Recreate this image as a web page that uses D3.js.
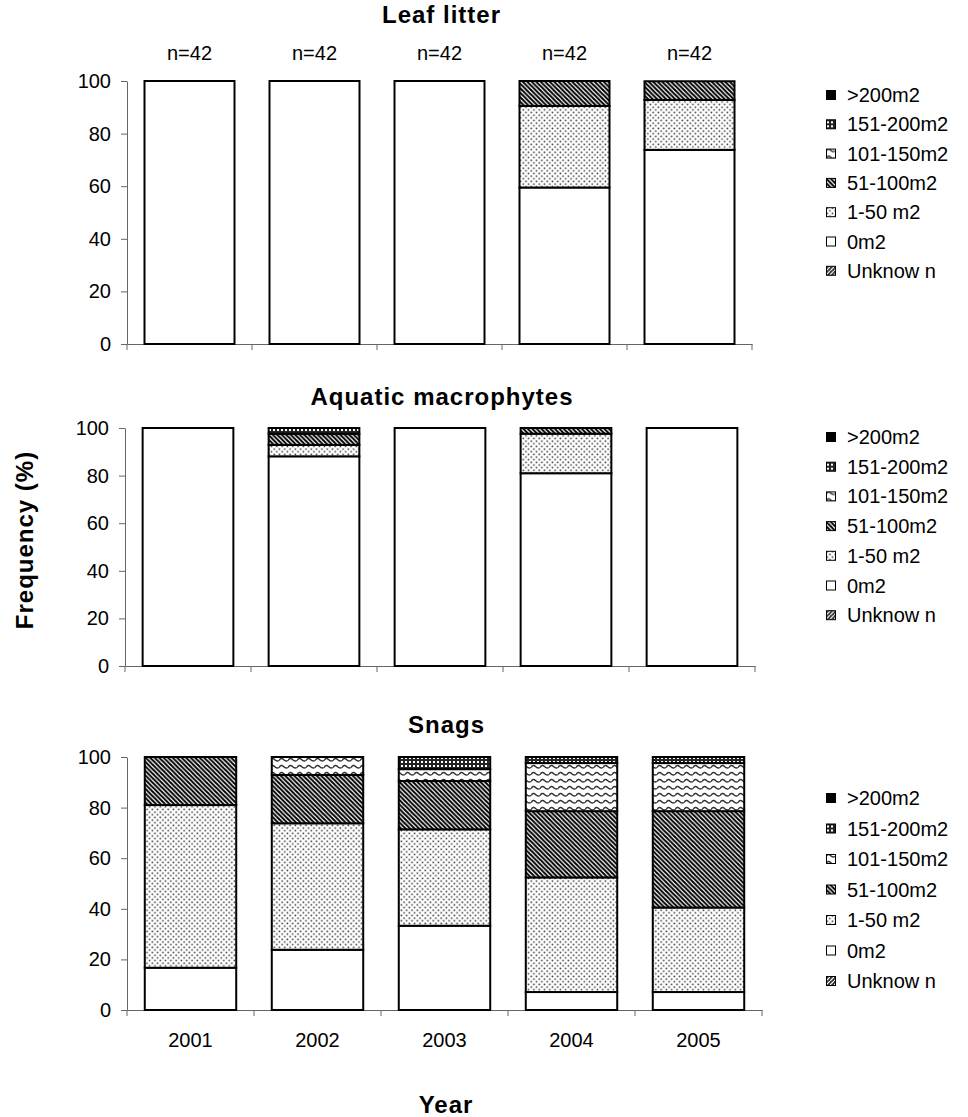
<!DOCTYPE html>
<html>
<head>
<meta charset="utf-8">
<script src="https://cdn.jsdelivr.net/npm/d3@7"></script>
<style>
  body { margin: 0; background: #fff; }
  text { font-family: "Liberation Sans", Arial, sans-serif; }
</style>
</head>
<body>
<script>
var years = ["2001", "2002", "2003", "2004", "2005"];
var yTicks = [0, 20, 40, 60, 80, 100];
var sampleLabels = ["n=42", "n=42", "n=42", "n=42", "n=42"];
var panelTitles = ["Leaf litter", "Aquatic macrophytes", "Snags"];
// stacking order, bottom first (legend shows it reversed)
var classes = ["Unknow n", "0m2", "1-50 m2", "51-100m2", "101-150m2", "151-200m2", ">200m2"];

// Leaf litter (% of sites)
var leafUnknown  = [0, 0, 0, 0, 0];
var leaf0        = [100, 100, 100, 59.5, 73.8];
var leaf1to50    = [0, 0, 0, 31.0, 19.0];
var leaf51to100  = [0, 0, 0, 9.5, 7.1];
var leaf101to150 = [0, 0, 0, 0, 0];
var leaf151to200 = [0, 0, 0, 0, 0];
var leafOver200  = [0, 0, 0, 0, 0];

// Aquatic macrophytes
var aquaUnknown  = [0, 0, 0, 0, 0];
var aqua0        = [100, 88.1, 100, 81.0, 100];
var aqua1to50    = [0, 4.8, 0, 16.6, 0];
var aqua51to100  = [0, 4.7, 0, 2.4, 0];
var aqua101to150 = [0, 0, 0, 0, 0];
var aqua151to200 = [0, 2.4, 0, 0, 0];
var aquaOver200  = [0, 0, 0, 0, 0];

// Snags
var snagUnknown  = [0, 0, 0, 0, 0];
var snag0        = [16.7, 23.8, 33.3, 7.1, 7.1];
var snag1to50    = [64.3, 50.0, 38.1, 45.3, 33.4];
var snag51to100  = [19.0, 19.1, 19.1, 26.2, 38.1];
var snag101to150 = [0, 7.1, 4.7, 19.0, 19.0];
var snag151to200 = [0, 0, 4.8, 2.4, 2.4];
var snagOver200  = [0, 0, 0, 0, 0];

function makeRows(series) {
  return years.map(function(y, i) {
    var row = { year: y };
    classes.forEach(function(c, k) { row[c] = series[k][i]; });
    return row;
  });
}

var panels = [
  { title: panelTitles[0], rows: makeRows([leafUnknown, leaf0, leaf1to50, leaf51to100, leaf101to150, leaf151to200, leafOver200]),
    x0: 127, x1: 752, top: 81, bottom: 344, titleY: 23, legendY: 95, legendStep: 29.3, showN: true, showYears: false },
  { title: panelTitles[1], rows: makeRows([aquaUnknown, aqua0, aqua1to50, aqua51to100, aqua101to150, aqua151to200, aquaOver200]),
    x0: 125, x1: 755, top: 428, bottom: 666, titleY: 405, legendY: 437, legendStep: 29.7, showN: false, showYears: false },
  { title: panelTitles[2], rows: makeRows([snagUnknown, snag0, snag1to50, snag51to100, snag101to150, snag151to200, snagOver200]),
    x0: 127, x1: 762, top: 757, bottom: 1010, titleY: 733, legendY: 798, legendStep: 30.5, showN: false, showYears: true }
];

var fills = {
  "Unknow n": "url(#pUnknown)",
  "0m2": "#ffffff",
  "1-50 m2": "url(#pDots)",
  "51-100m2": "url(#pHatch)",
  "101-150m2": "url(#pWave)",
  "151-200m2": "url(#pChecker)",
  ">200m2": "#000000"
};

var svg = d3.select("body").append("svg")
  .attr("width", 968).attr("height", 1117);

svg.append("rect").attr("width", 968).attr("height", 1117).attr("fill", "#fff");

// fill patterns
var defs = svg.append("defs");

var pd = defs.append("pattern").attr("id", "pDots").attr("patternUnits", "userSpaceOnUse")
  .attr("width", 5.3).attr("height", 5.3);
pd.append("rect").attr("width", 5.3).attr("height", 5.3).attr("fill", "#fff");
pd.append("rect").attr("x", 0.5).attr("y", 0.5).attr("width", 1.5).attr("height", 1.5).attr("fill", "#333");
pd.append("rect").attr("x", 3.15).attr("y", 3.15).attr("width", 1.5).attr("height", 1.5).attr("fill", "#333");

var ph = defs.append("pattern").attr("id", "pHatch").attr("patternUnits", "userSpaceOnUse")
  .attr("width", 4.5).attr("height", 4.5);
ph.append("rect").attr("width", 4.5).attr("height", 4.5).attr("fill", "#fff");
ph.append("path").attr("d", "M-1,-1 L5.5,5.5 M-1,3.5 L1,5.5 M3.5,-1 L5.5,1")
  .attr("stroke", "#000").attr("stroke-width", 2);

var pw = defs.append("pattern").attr("id", "pWave").attr("patternUnits", "userSpaceOnUse")
  .attr("width", 9).attr("height", 7);
pw.append("rect").attr("width", 9).attr("height", 7).attr("fill", "#fff");
pw.append("path").attr("d", "M0,4.5 Q2.25,1 4.5,3.5 T9,4.5")
  .attr("fill", "none").attr("stroke", "#333").attr("stroke-width", 1.4);

var pc = defs.append("pattern").attr("id", "pChecker").attr("patternUnits", "userSpaceOnUse")
  .attr("width", 4).attr("height", 4);
pc.append("rect").attr("width", 4).attr("height", 4).attr("fill", "#222");
pc.append("rect").attr("x", 1).attr("y", 1).attr("width", 2).attr("height", 2).attr("fill", "#fff");

var pu = defs.append("pattern").attr("id", "pUnknown").attr("patternUnits", "userSpaceOnUse")
  .attr("width", 4).attr("height", 4);
pu.append("rect").attr("width", 4).attr("height", 4).attr("fill", "#333");
pu.append("path").attr("d", "M-1,5 L5,-1").attr("stroke", "#fff").attr("stroke-width", 1.2);

var stack = d3.stack().keys(classes);

panels.forEach(function(p) {
  var g = svg.append("g");

  var x = d3.scaleBand().domain(years).range([p.x0, p.x1])
    .paddingInner(0.28).paddingOuter(0.14);
  var y = d3.scaleLinear().domain([0, 100]).range([p.bottom, p.top]);

  // y axis
  var yAxis = g.append("g").attr("transform", "translate(" + p.x0 + ",0)")
    .call(d3.axisLeft(y).tickValues(yTicks).tickSize(6).tickSizeOuter(0).tickPadding(10));
  yAxis.select(".domain").attr("stroke", "#666");
  yAxis.selectAll(".tick line").attr("stroke", "#666");
  yAxis.selectAll("text").attr("font-size", "20px").attr("fill", "#000")
    .attr("font-family", "'Liberation Sans', Arial, sans-serif");

  // x axis line and labels
  var xAxis = g.append("g").attr("transform", "translate(0," + p.bottom + ")")
    .call(d3.axisBottom(x).tickSize(0).tickSizeOuter(0).tickPadding(23));
  xAxis.select(".domain").attr("stroke", "#666");
  xAxis.selectAll("text").attr("font-size", "20px").attr("fill", "#000")
    .attr("font-family", "'Liberation Sans', Arial, sans-serif")
    .style("display", p.showYears ? null : "none");

  // category boundary ticks
  g.selectAll(".bound").data(d3.range(years.length + 1)).enter()
    .append("line")
    .attr("x1", function(i) { return x.range()[0] + i * x.step(); })
    .attr("x2", function(i) { return x.range()[0] + i * x.step(); })
    .attr("y1", p.bottom)
    .attr("y2", p.bottom + 6)
    .attr("stroke", "#666");

  // stacked bars
  var layers = stack(p.rows);
  layers.forEach(function(layer) {
    g.selectAll(null).data(layer.filter(function(d) { return d[1] - d[0] > 0; })).enter()
      .append("rect")
      .attr("x", function(d) { return x(d.data.year); })
      .attr("y", function(d) { return y(d[1]); })
      .attr("width", x.bandwidth())
      .attr("height", function(d) { return y(d[0]) - y(d[1]); })
      .attr("fill", fills[layer.key])
      .attr("stroke", "#000")
      .attr("stroke-width", 2);
  });

  // title
  g.append("text")
    .text(p.title)
    .attr("x", (p.x0 + p.x1) / 2 + 2)
    .attr("y", p.titleY)
    .attr("text-anchor", "middle")
    .attr("font-size", "24px")
    .attr("font-weight", "bold")
    .attr("letter-spacing", "1px");

  if (p.showN) {
    g.selectAll(".nlab").data(years).enter()
      .append("text")
      .text(function(d, i) { return sampleLabels[i]; })
      .attr("x", function(d) { return x(d) + x.bandwidth() / 2; })
      .attr("y", 60)
      .attr("text-anchor", "middle")
      .attr("font-size", "20px");
  }

  // legend, top entry is the last series
  var legendItems = classes.slice().reverse();
  var lg = g.selectAll(".leg").data(legendItems).enter()
    .append("g")
    .attr("transform", function(d, i) { return "translate(826," + (p.legendY + i * p.legendStep) + ")"; });
  lg.append("rect")
    .attr("x", 0.5).attr("y", -4.5)
    .attr("width", 9).attr("height", 9)
    .attr("fill", function(d) { return fills[d]; })
    .attr("stroke", "#000")
    .attr("stroke-width", 1);
  lg.append("text")
    .text(function(d) { return d; })
    .attr("x", 21)
    .attr("y", 0)
    .attr("dy", "0.35em")
    .attr("font-size", "20px");
});

// shared axis titles
svg.append("text")
  .text("Frequency (%)")
  .attr("transform", "translate(24,540) rotate(-90)")
  .attr("text-anchor", "middle")
  .attr("dominant-baseline", "central")
  .attr("font-size", "24px")
  .attr("font-weight", "bold")
  .attr("letter-spacing", "1px");

svg.append("text")
  .text("Year")
  .attr("x", 446)
  .attr("y", 1113)
  .attr("text-anchor", "middle")
  .attr("font-size", "24px")
  .attr("font-weight", "bold")
  .attr("letter-spacing", "1px");
</script>
</body>
</html>
